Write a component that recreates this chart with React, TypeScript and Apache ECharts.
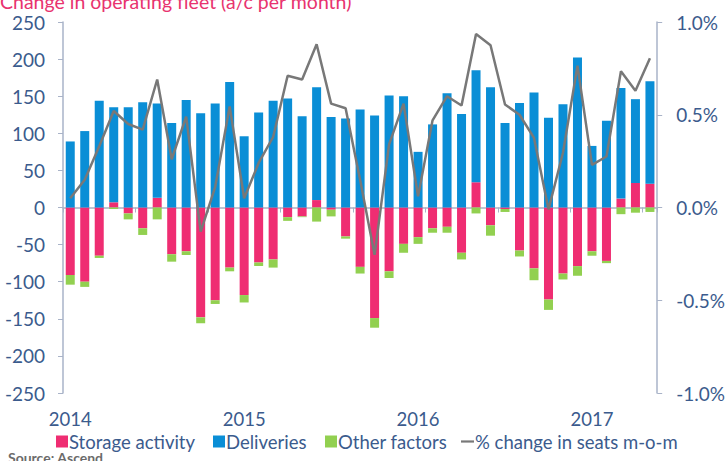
import React, { useEffect, useRef } from "react";
import * as echarts from "echarts";

const months: string[] = [];
for (let y = 2014; y <= 2017; y++) {
  for (let m = 1; m <= 12; m++) {
    if (y === 2017 && m > 5) break;
    months.push(`${y}-${m < 10 ? "0" + m : m}`);
  }
}

const storageActivity = [
  -91, -100, -65, 7, -8, -28, 13, -63, -59, -148, -125, -81,
  -118, -74, -70, -13, -12, 10, -3, -39, -80, -149, -86, -49,
  -40, -28, -26, -61, 34, -24, -2, -58, -82, -124, -89, -79,
  -59, -72, 12, 33, 32,
];

const deliveries = [
  89, 103, 144, 128, 135, 142, 127, 114, 145, 127, 140, 169,
  96, 128, 144, 147, 123, 152, 122, 120, 132, 124, 151, 150,
  75, 112, 154, 126, 151, 162, 114, 141, 155, 121, 139, 202,
  83, 117, 149, 113, 138,
];

const otherFactors = [
  -13, -7, -3, -2, -8, -9, -16, -10, -5, -8, -5, -5,
  -10, -5, -11, -5, -1, -19, -9, -3, -9, -13, -9, -12,
  -9, -6, -8, -9, -8, -14, -4, -8, -16, -14, -8, -13,
  -6, -3, -9, -7, -6,
];

const seatsChange = [
  0.05, 0.15, 0.33, 0.52, 0.45, 0.42, 0.69, 0.26, 0.49, -0.13, 0.11, 0.545,
  0.05, 0.24, 0.38, 0.71, 0.69, 0.88, 0.56, 0.535, 0.15, -0.255, 0.34, 0.56,
  0.06, 0.47, 0.6, 0.55, 0.935, 0.875, 0.555, 0.5, 0.375, -0.01, 0.295, 0.765,
  0.23, 0.275, 0.735, 0.63, 0.805,
];

const legendNames = ["Storage activity", "Deliveries", "Other factors", "% change in seats m-o-m"];

const FONT = "Lato, 'Noto Sans', sans-serif";
const AXIS_TEXT = "#3b5b8d";
const AXIS_LINE = "#a9b3c8";
const PINK = "#ef2d72";
const BLUE = "#0a8ed6";
const GREEN = "#92d050";
const GREY = "#787878";

export default function App() {
  const ref = useRef<HTMLDivElement>(null);

  useEffect(() => {
    if (!ref.current) return;
    const chart = echarts.init(ref.current, undefined, { renderer: "svg" });
    const legendLefts = [56, 213, 325, 461];
    const legendIcons = ["rect", "rect", "rect", "path://M0,0H13V2.2H0Z"];
    const legends = legendNames.map((name, i) => ({
      left: legendLefts[i],
      top: 432,
      padding: 0,
      itemWidth: i === 3 ? 13 : 12,
      itemHeight: 12,
      symbolKeepAspect: true,
      textStyle: { color: AXIS_TEXT, fontSize: 18.5, fontFamily: FONT, padding: [0, 0, 0, -4] },
      data: [{ name, icon: legendIcons[i] }],
    }));
    chart.setOption({
      animation: false,
      textStyle: { fontFamily: FONT },
      title: [
        {
          text: "Change in operating fleet (a/c per month)",
          left: 0,
          top: -9,
          padding: 0,
          textStyle: { color: "#e8336f", fontSize: 19.5, fontWeight: "normal", fontFamily: FONT },
        },
        {
          text: "Source: Ascend",
          left: 8,
          top: 450,
          padding: 0,
          textStyle: { color: "#6b6b6b", fontSize: 14, fontWeight: "bold", fontFamily: FONT },
        },
      ],
      legend: legends,
      grid: { left: 63, right: 65, top: 22, bottom: 68 },
      xAxis: [
        {
          type: "category",
          data: months,
          axisLine: { onZero: true, lineStyle: { color: AXIS_LINE, width: 1.5 } },
          axisTick: { show: true, length: 5, lineStyle: { color: AXIS_LINE } },
          axisLabel: { show: false },
        },
        {
          type: "category",
          data: months,
          position: "bottom",
          axisLine: { show: false, onZero: false },
          axisTick: { show: false },
          axisLabel: {
            show: true,
            interval: 11,
            margin: 16,
            color: AXIS_TEXT,
            fontSize: 18.5,
            fontFamily: FONT,
            formatter: (v: string) => v.slice(0, 4),
          },
        },
      ],
      yAxis: [
        {
          type: "value",
          min: -250,
          max: 250,
          interval: 50,
          splitLine: { show: false },
          axisLine: { show: true, lineStyle: { color: AXIS_LINE, width: 1.5 } },
          axisTick: { show: true, length: 5, lineStyle: { color: AXIS_LINE } },
          axisLabel: { color: AXIS_TEXT, fontSize: 19, margin: 18, fontFamily: FONT },
        },
        {
          type: "value",
          min: -1,
          max: 1,
          interval: 0.5,
          splitLine: { show: false },
          axisLine: { show: true, lineStyle: { color: AXIS_LINE, width: 1.5 } },
          axisTick: { show: true, length: 5, lineStyle: { color: AXIS_LINE } },
          axisLabel: {
            color: AXIS_TEXT,
            fontSize: 19,
            margin: 19,
            fontFamily: FONT,
            formatter: (v: number) => v.toFixed(1) + "%",
          },
        },
      ],
      series: [
        {
          name: legendNames[0],
          type: "bar",
          stack: "fleet",
          barWidth: 9,
          data: storageActivity,
          itemStyle: { color: PINK },
        },
        {
          name: legendNames[1],
          type: "bar",
          stack: "fleet",
          barWidth: 9,
          data: deliveries,
          itemStyle: { color: BLUE },
        },
        {
          name: legendNames[2],
          type: "bar",
          stack: "fleet",
          barWidth: 9,
          data: otherFactors,
          itemStyle: { color: GREEN },
        },
        {
          name: legendNames[3],
          type: "line",
          yAxisIndex: 1,
          data: seatsChange,
          symbol: "none",
          lineStyle: { color: GREY, width: 2.5 },
          itemStyle: { color: GREY },
          z: 5,
        },
      ],
    });
    return () => chart.dispose();
  }, []);

  return (
    <div
      ref={ref}
      style={{ position: "fixed", left: 0, top: 0, width: 728, height: 461, background: "#fff" }}
    />
  );
}
